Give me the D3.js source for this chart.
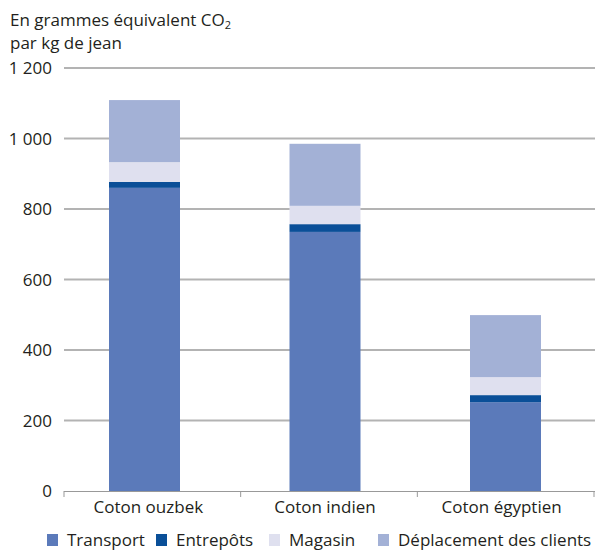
<!DOCTYPE html>
<meta charset="utf-8">
<script src="https://d3js.org/d3.v7.min.js"></script>
<style>
  body { margin: 0; background: #fff; }
  text { font-family: "Open Sans", sans-serif; fill: #231f20; }
</style>
<div id="chart"></div>
<script>

// data
var categories = ["Coton ouzbek", "Coton indien", "Coton égyptien"];
var seriesNames = ["Transport", "Entrepôts", "Magasin", "Déplacement des clients"];
var transport   = [860, 735, 252];
var entrepots   = [17, 22, 20];
var magasin     = [56, 52, 51];
var deplacement = [176, 176, 176];
var yTicks = [0, 200, 400, 600, 800, 1000, 1200];

var colors = ["#5b7aba", "#0a4f98", "#dfe0ef", "#a3b1d6"];
var fs = "17px";

var width = 595, height = 550;
var svg = d3.select("#chart").append("svg")
    .attr("width", width)
    .attr("height", height);

var rows = categories.map(function(c, i) {
  return { cat: c, "Transport": transport[i], "Entrepôts": entrepots[i],
           "Magasin": magasin[i], "Déplacement des clients": deplacement[i] };
});
var stacked = d3.stack().keys(seriesNames)(rows);

var y = d3.scaleLinear().domain([0, 1200]).range([491, 68]);
// axis bands (tick marks between categories)
var xAxis = d3.scaleBand().domain(categories).range([64, 594]);
// bar positions
var xBar = d3.scalePoint().domain(categories).range([144.5, 505.5]);
var barW = 71;

// gridlines + y labels
svg.append("g").selectAll("line")
  .data(yTicks.filter(function(d) { return d > 0; }))
  .enter().append("line")
    .attr("x1", 64).attr("x2", 595)
    .attr("y1", function(d) { return y(d); })
    .attr("y2", function(d) { return y(d); })
    .attr("stroke", "#b3b3b3")
    .attr("stroke-width", 2);

var fmt = function(d) { return d3.format(",")(d).replace(/,/g, " "); };
svg.append("g").selectAll("text")
  .data(yTicks)
  .enter().append("text")
    .attr("x", 52)
    .attr("y", function(d) { return y(d); })
    .attr("dy", "0.36em")
    .attr("text-anchor", "end")
    .style("font-size", fs)
    .text(fmt);

// bars
svg.append("g").selectAll("g")
  .data(stacked)
  .enter().append("g")
    .attr("fill", function(d, i) { return colors[i]; })
  .selectAll("rect")
  .data(function(d) { return d; })
  .enter().append("rect")
    .attr("x", function(d) { return xBar(d.data.cat) - barW / 2; })
    .attr("y", function(d) { return y(d[1]); })
    .attr("width", barW)
    .attr("height", function(d) { return y(d[0]) - y(d[1]); });

// x axis
var axisG = svg.append("g");
axisG.append("line")
  .attr("x1", 64).attr("x2", 595)
  .attr("y1", 491.5).attr("y2", 491.5)
  .attr("stroke", "#999").attr("stroke-width", 1);
var bounds = categories.map(function(c) { return xAxis(c); }).concat([xAxis.range()[1]]);
axisG.selectAll("line.tick")
  .data(bounds)
  .enter().append("line")
    .attr("class", "tick")
    .attr("x1", function(d) { return d; })
    .attr("x2", function(d) { return d; })
    .attr("y1", 491).attr("y2", 497)
    .attr("stroke", "#999");
axisG.selectAll("text")
  .data(categories)
  .enter().append("text")
    .attr("x", function(d) { return xAxis(d) + xAxis.bandwidth() / 2 - 4; })
    .attr("y", 513)
    .attr("text-anchor", "middle")
    .style("font-size", fs)
    .text(function(d) { return d; });

// title
var t = svg.append("text").attr("x", 10).attr("y", 26).style("font-size", fs);
t.append("tspan").text("En grammes équivalent CO");
t.append("tspan").attr("dy", 3).style("font-size", "11px").text("2");
svg.append("text").attr("x", 10).attr("y", 49).style("font-size", fs)
  .text("par kg de jean");

// legend
var legendX = [47, 156, 269, 378];
var lg = svg.append("g").selectAll("g")
  .data(seriesNames)
  .enter().append("g")
    .attr("transform", function(d, i) { return "translate(" + legendX[i] + ",534)"; });
lg.append("rect")
  .attr("width", 11).attr("height", 12)
  .attr("fill", function(d, i) { return colors[i]; });
lg.append("text")
  .attr("x", 20).attr("y", 12)
  .style("font-size", fs)
  .text(function(d) { return d; });

</script>
